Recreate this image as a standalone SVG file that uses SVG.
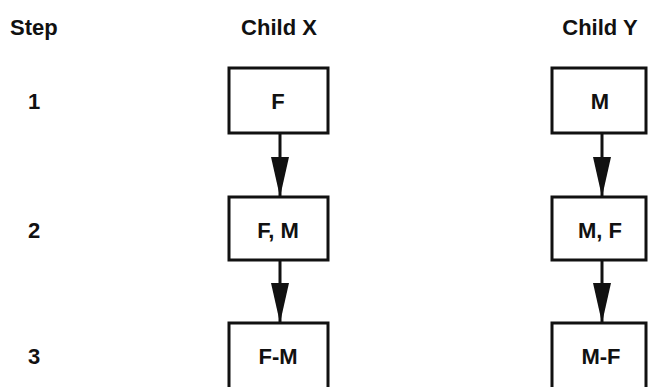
<svg xmlns="http://www.w3.org/2000/svg" width="648" height="387" viewBox="0 0 648 387">
  <style>
    text { font-family: "Liberation Sans", Arial, sans-serif; font-weight: bold; font-size: 22px; fill: #111; }
    .c { text-anchor: middle; }
    .box { fill: #fff; stroke: #111; stroke-width: 3; }
    .conn { stroke: #111; stroke-width: 3; fill: none; }
  </style>
  <defs>
    <marker id="arr" markerUnits="userSpaceOnUse" markerWidth="42" markerHeight="18" refX="40" refY="9" orient="auto" viewBox="0 0 42 18">
      <path d="M0,0 L40,9 L0,18 Z" fill="#111"/>
    </marker>
  </defs>
  <g id="headers">
    <text x="10" y="35">Step</text>
    <text class="c" x="279" y="35">Child X</text>
    <text class="c" x="600" y="35">Child Y</text>
  </g>
  <g id="steps">
    <text x="28" y="109">1</text>
    <text x="28" y="238">2</text>
    <text x="28" y="364">3</text>
  </g>
  <g id="connectors">
    <line class="conn" x1="280" y1="133" x2="280" y2="197" marker-end="url(#arr)"/>
    <line class="conn" x1="280" y1="260" x2="280" y2="323" marker-end="url(#arr)"/>
    <line class="conn" x1="602" y1="133" x2="602" y2="197" marker-end="url(#arr)"/>
    <line class="conn" x1="602" y1="260" x2="602" y2="323" marker-end="url(#arr)"/>
  </g>
  <g id="x1"><rect class="box" x="229" y="68" width="99" height="65"/><text class="c" x="278" y="109">F</text></g>
  <g id="x2"><rect class="box" x="229" y="197" width="99" height="63"/><text class="c" x="278" y="238">F, M</text></g>
  <g id="x3"><rect class="box" x="229" y="323" width="99" height="66"/><text class="c" x="278" y="364">F-M</text></g>
  <g id="y1"><rect class="box" x="552" y="68" width="94" height="65"/><text class="c" x="600" y="109">M</text></g>
  <g id="y2"><rect class="box" x="552" y="197" width="94" height="63"/><text class="c" x="600" y="238">M, F</text></g>
  <g id="y3"><rect class="box" x="552" y="323" width="94" height="66"/><text class="c" x="601" y="364">M-F</text></g>
</svg>
